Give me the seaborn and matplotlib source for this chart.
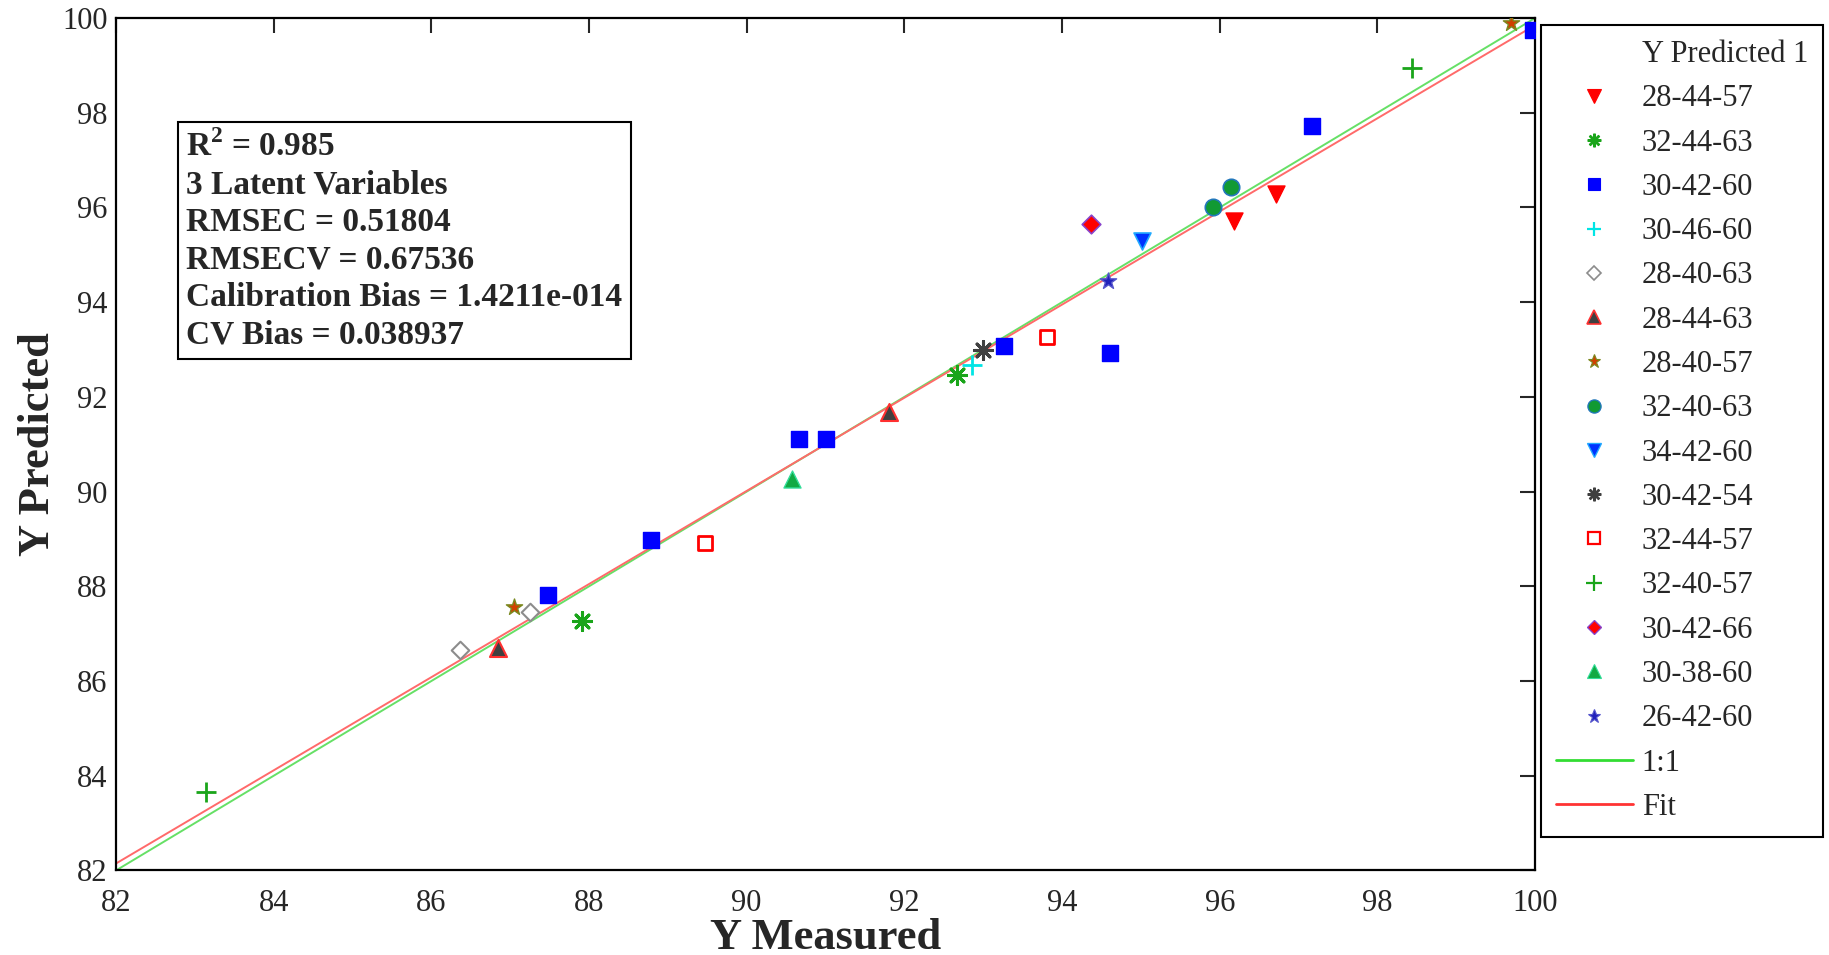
import numpy as np
import pandas as pd
import matplotlib
matplotlib.use("Agg")
import matplotlib.pyplot as plt
from matplotlib.lines import Line2D
import seaborn as sns

# Group labels, as in the legend
groups = [
    "28-44-57", "32-44-63", "30-42-60", "30-46-60", "28-40-63",
    "28-44-63", "28-40-57", "32-40-63", "34-42-60", "30-42-54",
    "32-44-57", "32-40-57", "30-42-66", "30-38-60", "26-42-60",
]

# Measured / predicted values per group
measured = {
    "28-44-57": [96.18, 96.71],
    "32-44-63": [87.91, 92.67],
    "30-42-60": [87.48, 88.79, 90.66, 91.00, 93.26, 94.61, 97.17, 99.97],
    "30-46-60": [92.86],
    "28-40-63": [86.37, 87.25],
    "28-44-63": [86.85, 91.80],
    "28-40-57": [87.05, 99.70],
    "32-40-63": [95.91, 96.14],
    "34-42-60": [95.01],
    "30-42-54": [93.00],
    "32-44-57": [89.47, 93.81],
    "32-40-57": [83.14, 98.44],
    "30-42-66": [94.37],
    "30-38-60": [90.57],
    "26-42-60": [94.58],
}
predicted = {
    "28-44-57": [95.72, 96.29],
    "32-44-63": [87.27, 92.46],
    "30-42-60": [87.81, 88.97, 91.12, 91.12, 93.08, 92.93, 97.72, 99.75],
    "30-46-60": [92.68],
    "28-40-63": [86.65, 87.46],
    "28-44-63": [86.70, 91.69],
    "28-40-57": [87.56, 99.90],
    "32-40-63": [96.02, 96.44],
    "34-42-60": [95.30],
    "30-42-54": [93.00],
    "32-44-57": [88.92, 93.27],
    "32-40-57": [83.65, 98.94],
    "30-42-66": [95.65],
    "30-38-60": [90.26],
    "26-42-60": [94.44],
}

# Reference lines
line_x = [82, 100]
fit_slope = 0.9835
fit_intercept = 1.50

stats_text = ("R$^{\\mathbf{2}}$ = 0.985\n3 Latent Variables\nRMSEC = 0.51804\n"
              "RMSECV = 0.67536\nCalibration Bias = 1.4211e-014\nCV Bias = 0.038937")

# marker, face colour, edge colour (None -> line marker), size, linewidth
styles = {
    "28-44-57": ("v", "#ff0000", "#ff0000", 150, 1.0),
    "32-44-63": ((8, 2, 0), "#1aa51a", None, 170, 2.2),
    "30-42-60": ("s", "#0000ff", "#0000ff", 120, 1.0),
    "30-46-60": ("+", "#00e5e5", None, 200, 2.0),
    "28-40-63": ("D", "white", "#8c8c8c", 80, 1.5),
    "28-44-63": ("^", "#404040", "#ff3030", 150, 1.5),
    "28-40-57": ("*", "#d04000", "#7a8a20", 150, 1.0),
    "32-40-63": ("o", "#119a33", "#2277bb", 140, 1.2),
    "34-42-60": ("v", "#0033ff", "#22aaff", 150, 1.2),
    "30-42-54": ((8, 2, 0), "#404040", None, 170, 2.2),
    "32-44-57": ("s", "white", "#ff0000", 100, 2.0),
    "32-40-57": ("+", "#1aa51a", None, 220, 2.0),
    "30-42-66": ("D", "#ff0000", "#8844cc", 90, 1.2),
    "30-38-60": ("^", "#11aa44", "#33dd99", 150, 1.0),
    "26-42-60": ("*", "#2222bb", "#5555cc", 150, 1.0),
}

FONT = ["Liberation Serif", "DejaVu Serif"]

sns.set_style("white")
plt.rcParams["font.family"] = FONT
plt.rcParams["mathtext.fontset"] = "custom"
plt.rcParams["mathtext.rm"] = "Liberation Serif"
plt.rcParams["mathtext.bf"] = "Liberation Serif:bold"

fig = plt.figure(figsize=(18.29, 9.55), dpi=100)
ax = fig.add_axes([0.0634, 0.0885, 0.7759, 0.8926])

# 1:1 and fit lines
sns.lineplot(x=line_x, y=line_x, color="#66e066", linewidth=1.4, ax=ax)
fit_y = [fit_slope * v + fit_intercept for v in line_x]
sns.lineplot(x=line_x, y=fit_y, color="#ff6a6a", linewidth=1.4, ax=ax)

handles = [Line2D([], [], linestyle="none", marker=None)]
labels = ["Y Predicted 1"]
for g in groups:
    df = pd.DataFrame({"measured": measured[g], "predicted": predicted[g]})
    marker, face, edge, size, lw = styles[g]
    kw = dict(marker=marker, s=size, linewidth=lw, color=face, zorder=3)
    if edge is not None:
        kw["edgecolor"] = edge
    sns.scatterplot(data=df, x="measured", y="predicted", ax=ax, legend=False, **kw)
    ms = np.sqrt(size) * (0.8 if edge is not None else 0.75)
    if edge is None:
        h = Line2D([], [], linestyle="none", marker=marker, color=face,
                   markersize=ms, markeredgewidth=lw * 0.8)
    else:
        h = Line2D([], [], linestyle="none", marker=marker, markerfacecolor=face,
                   markeredgecolor=edge, markersize=ms, markeredgewidth=lw * 0.8)
    handles.append(h)
    labels.append(g)

handles.append(Line2D([], [], color="#33dd33", linewidth=2))
labels.append("1:1")
handles.append(Line2D([], [], color="#ff3333", linewidth=2))
labels.append("Fit")

leg = fig.legend(handles, labels, loc="upper left", bbox_to_anchor=(0.8425, 0.974),
                 bbox_transform=fig.transFigure, fontsize=22, frameon=True,
                 fancybox=False, framealpha=1, edgecolor="black",
                 handlelength=2.5, handletextpad=0.3, labelspacing=0.50,
                 borderpad=0.5, borderaxespad=0)
leg.get_frame().set_linewidth(1.5)

ax.set_xlim(82, 100)
ax.set_ylim(82, 100)
ax.set_xticks(np.arange(82, 101, 2))
ax.set_yticks(np.arange(82, 101, 2))
ax.tick_params(direction="in", length=11, width=1.5, labelsize=22,
               top=True, right=True)
ax.tick_params(axis="x", pad=13)
ax.tick_params(axis="y", pad=6)
for sp in ax.spines.values():
    sp.set_linewidth(1.6)
    sp.set_color("black")

ax.set_xlabel("Y Measured", fontsize=32, fontweight="bold")
ax.set_ylabel("Y Predicted", fontsize=32, fontweight="bold")
ax.xaxis.set_label_coords(0.5, -0.0925)
ax.xaxis.label.set_va("baseline")
ax.yaxis.set_label_coords(-0.055, 0.5)
ax.yaxis.label.set_va("center")

ax.text(82.89, 97.62, stats_text, fontsize=24, fontweight="bold", va="top", ha="left",
        linespacing=1.27,
        bbox=dict(boxstyle="square,pad=0.25", facecolor="white", edgecolor="black",
                  linewidth=1.5))

fig.savefig("out.png", dpi=100)
